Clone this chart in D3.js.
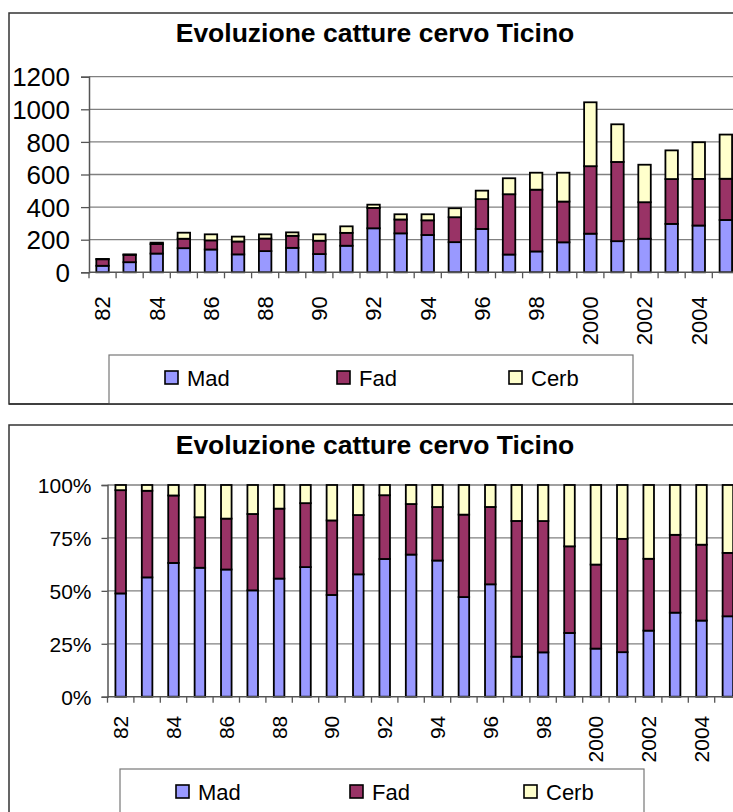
<!DOCTYPE html>
<html>
<head>
<meta charset="utf-8">
<script src="https://cdn.jsdelivr.net/npm/d3@7"></script>
<style>
  body { margin: 0; background: #fff; }
  svg { display: block; font-family: Arial, "Liberation Sans", sans-serif; }
</style>
</head>
<body>
<div id="chart"></div>
<script>
// data
const years = ["82","83","84","85","86","87","88","89","90","91","92","93","94","95","96","97","98","99","2000","2001","2002","2003","2004","2005"];
const mad  = [40, 62, 115, 148, 140, 110, 130, 150, 112, 163, 270, 239, 229, 185, 266, 109, 128, 184, 237, 191, 206, 297, 287, 321];
const fad  = [40, 45, 58, 58, 56, 79, 77, 74, 82, 79, 125, 85, 90, 153, 183, 370, 379, 250, 414, 486, 224, 275, 286, 253];
const cerb = [2, 3, 9, 37, 37, 30, 26, 21, 39, 40, 20, 32, 37, 55, 52, 98, 104, 177, 392, 231, 230, 176, 225, 271];
const seriesNames = ["Mad", "Fad", "Cerb"];
const seriesColours = ["#9999FF", "#993366", "#FFFFCC"];
const shownLabels = ["82","84","86","88","90","92","94","96","98","2000","2002","2004"];
const countTicks = [0, 200, 400, 600, 800, 1000, 1200];
const pctTicks = [0, 0.25, 0.5, 0.75, 1];
const title = "Evoluzione catture cervo Ticino";

const data = years.map((y, i) => ({year: y, Mad: mad[i], Fad: fad[i], Cerb: cerb[i]}));

const svg = d3.select("#chart").append("svg")
  .attr("width", 733)
  .attr("height", 812);

const z = d3.scaleOrdinal(seriesNames, seriesColours);

function drawPanel(opt) {
  const g = svg.append("g");
  const bottom = opt.top + opt.frameH;

  // outer frame
  g.append("rect")
    .attr("x", 9).attr("y", opt.top)
    .attr("width", 760).attr("height", opt.frameH)
    .attr("fill", "#fff").attr("stroke", "#333").attr("stroke-width", 1.5);

  // title
  g.append("text")
    .attr("x", 375).attr("y", opt.top + 29)
    .attr("text-anchor", "middle")
    .attr("font-weight", "bold").attr("font-size", 26.5)
    .text(title);

  const x = d3.scaleBand()
    .domain(years)
    .range([opt.x0, opt.x0 + opt.band * years.length])
    .paddingInner(opt.pad).paddingOuter(opt.pad / 2);

  const y = d3.scaleLinear().domain(opt.domain).range([opt.y0, opt.y1]);

  // gridlines
  g.append("g").selectAll("line")
    .data(opt.ticks.slice(1))
    .enter().append("line")
      .attr("x1", opt.x0).attr("x2", 733)
      .attr("y1", d => y(d)).attr("y2", d => y(d))
      .attr("stroke", "#808080").attr("stroke-width", 1.3);

  // y axis
  const yAxis = d3.axisLeft(y).tickValues(opt.ticks).tickSize(opt.tickLen).tickFormat(opt.fmt);
  const ya = g.append("g")
    .attr("transform", `translate(${opt.x0},0)`)
    .call(yAxis);
  ya.select(".domain").attr("stroke", "#555").attr("stroke-width", 1.5);
  ya.selectAll(".tick line").attr("stroke", "#555").attr("stroke-width", 1.3);
  ya.selectAll(".tick text")
    .attr("font-size", opt.yFont).attr("fill", "#000")
    .attr("font-family", "Arial, 'Liberation Sans', sans-serif")
    .attr("x", -opt.labelOff).attr("dy", "0.35em");

  // stacked bars
  const stack = d3.stack().keys(seriesNames);
  if (opt.expand) stack.offset(d3.stackOffsetExpand);
  const layers = stack(data);

  g.append("g").selectAll("g")
    .data(layers)
    .enter().append("g")
      .attr("fill", d => z(d.key))
    .selectAll("rect")
    .data(d => d)
    .enter().append("rect")
      .attr("x", d => x(d.data.year))
      .attr("width", x.bandwidth())
      .attr("y", d => y(d[1]))
      .attr("height", d => y(d[0]) - y(d[1]))
      .attr("stroke", "#000").attr("stroke-width", 1.8);

  // x axis line
  g.append("line")
    .attr("x1", opt.x0).attr("x2", 733)
    .attr("y1", opt.y0).attr("y2", opt.y0)
    .attr("stroke", "#555").attr("stroke-width", 1.5);

  // category boundary ticks
  g.append("g").selectAll("line")
    .data(d3.range(years.length + 1))
    .enter().append("line")
      .attr("x1", i => opt.x0 + i * opt.band).attr("x2", i => opt.x0 + i * opt.band)
      .attr("y1", opt.y0).attr("y2", opt.y0 + 6)
      .attr("stroke", "#555").attr("stroke-width", 1.3);

  // x labels, rotated
  g.append("g").selectAll("text")
    .data(shownLabels)
    .enter().append("text")
      .attr("transform", d => `translate(${x(d) + x.bandwidth() / 2 + opt.xFont * 0.36},${opt.y0 + opt.labelGap}) rotate(-90)`)
      .attr("text-anchor", "end")
      .attr("font-size", opt.xFont)
      .text(d => d);

  // legend
  const lg = g.append("g");
  lg.append("rect")
    .attr("x", opt.legX).attr("y", opt.legY)
    .attr("width", 524).attr("height", bottom - opt.legY)
    .attr("fill", "#fff").attr("stroke", "#777").attr("stroke-width", 1.2);

  const item = lg.selectAll("g.item")
    .data(seriesNames)
    .enter().append("g")
      .attr("class", "item")
      .attr("transform", (d, i) => `translate(${opt.legX + opt.legFirst + i * opt.legStep},${opt.legY + 16})`);

  item.append("rect")
    .attr("width", 13).attr("height", 13)
    .attr("fill", d => z(d)).attr("stroke", "#000").attr("stroke-width", 1.6);

  item.append("text")
    .attr("x", 22).attr("y", 15)
    .attr("font-size", 22)
    .text(d => d);

  // frame bottom edge over the legend
  g.append("line")
    .attr("x1", 9).attr("x2", 733)
    .attr("y1", bottom).attr("y2", bottom)
    .attr("stroke", "#333").attr("stroke-width", 1.5);
}

// top panel: counts
drawPanel({
  top: 13, frameH: 391,
  x0: 89, band: 27.1, pad: 0.54,
  y0: 272.3, y1: 76.7, domain: [0, 1200],
  ticks: countTicks, fmt: d3.format("d"),
  tickLen: 8, labelOff: 19, yFont: 26, xFont: 22, labelGap: 24,
  legX: 109, legY: 355, legFirst: 56, legStep: 172,
  expand: false
});

// bottom panel: percentages
drawPanel({
  top: 425, frameH: 400,
  x0: 107.5, band: 26.4, pad: 0.6,
  y0: 696.7, y1: 485, domain: [0, 1],
  ticks: pctTicks, fmt: d3.format(".0%"),
  tickLen: 6, labelOff: 16, yFont: 21, xFont: 21, labelGap: 19,
  legX: 120, legY: 769, legFirst: 56, legStep: 174,
  expand: true
});
</script>
</body>
</html>
